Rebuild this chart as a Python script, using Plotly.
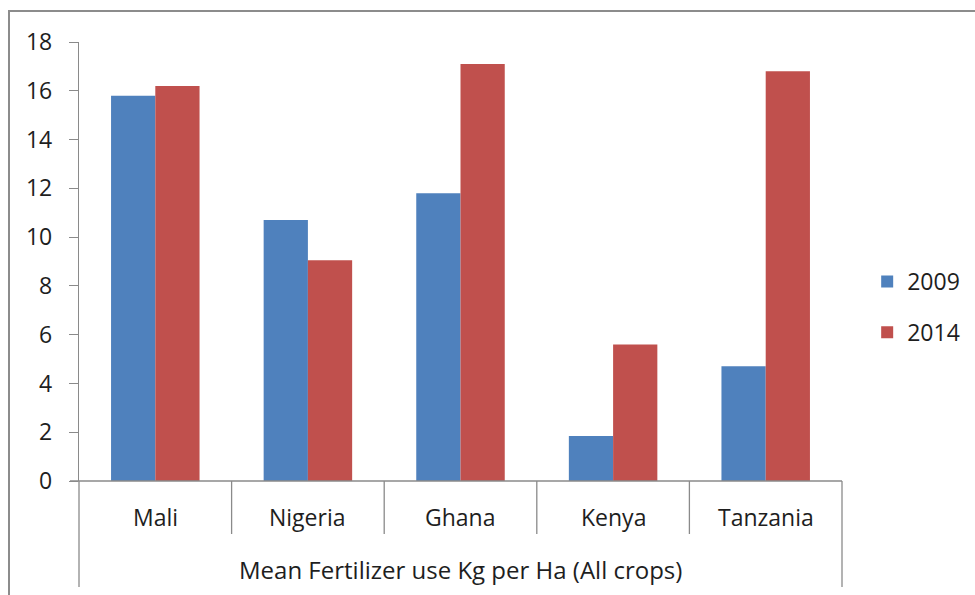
import plotly.graph_objects as go

# Mean fertilizer use (kg per ha, all crops)
countries = ["Mali", "Nigeria", "Ghana", "Kenya", "Tanzania"]
years = ["2009", "2014"]
use_2009 = [15.8, 10.7, 11.8, 1.85, 4.7]
use_2014 = [16.2, 9.05, 17.1, 5.6, 16.8]
y_ticks = [0, 2, 4, 6, 8, 10, 12, 14, 16, 18]
axis_group_label = "Mean Fertilizer use Kg per Ha (All crops)"

W, H = 975, 595
L, R, T, B = 79, 133, 42, 114
plot_w = W - L - R
plot_h = H - T - B

FONT = "Open Sans, sans-serif"
FS = 23
GRID = "#8a8a8a"
TEXT = "#1e1e1e"
colors = ["#4F81BD", "#C0504D"]

n = len(countries)
xs = list(range(n))

fig = go.Figure()
for name, vals, col in zip(years, [use_2009, use_2014], colors):
    fig.add_trace(go.Bar(
        x=xs, y=vals, name=name, legendgroup=name,
        marker=dict(color=col, line=dict(width=0)),
    ))

def px_x(dx):
    return dx / plot_w

def px_y(dy):
    return dy / plot_h

shapes = []
# category separators below the axis
for i in range(n + 1):
    outer = i in (0, n)
    shapes.append(dict(
        type="line", xref="paper", yref="paper",
        x0=i / n, x1=i / n, y0=0, y1=-px_y(106 if outer else 53),
        line=dict(color=GRID, width=1.3),
    ))
# outer chart frame
shapes.append(dict(
    type="rect", xref="paper", yref="paper",
    x0=px_x(9 - L), x1=px_x(W + 20 - L),
    y0=-px_y(B + 20), y1=1 + px_y(T - 11),
    line=dict(color="#8c8c8c", width=2), fillcolor="rgba(0,0,0,0)",
))
# baseline along the category axis, with the zero tick
shapes.append(dict(type="line", xref="paper", yref="paper", x0=-px_x(9), x1=1,
                   y0=0, y1=0, line=dict(color=GRID, width=1.3)))

annotations = []
for i, c in enumerate(countries):
    annotations.append(dict(
        x=(i + 0.5) / n, y=-px_y(36), xref="paper", yref="paper",
        text=c, showarrow=False, xanchor="center", yanchor="middle",
        font=dict(family=FONT, size=FS, color=TEXT),
    ))
annotations.append(dict(
    x=0.5, y=-px_y(88), xref="paper", yref="paper",
    text=axis_group_label, showarrow=False, xanchor="center", yanchor="middle",
    font=dict(family=FONT, size=24, color=TEXT),
))

fig.update_layout(
    width=W, height=H,
    margin=dict(l=L, r=R, t=T, b=B, autoexpand=False),
    paper_bgcolor="white", plot_bgcolor="white",
    barmode="group", bargap=0.42, bargroupgap=0,
    font=dict(family=FONT, size=FS, color=TEXT),
    xaxis=dict(
        range=[-0.5, n - 0.5], showticklabels=False, ticks="",
        showgrid=False, zeroline=False, showline=False, fixedrange=True,
    ),
    yaxis=dict(
        range=[0, 18], tickvals=y_ticks, ticks="outside", ticklen=9,
        tickcolor=GRID, tickwidth=1.3, showline=True, linecolor=GRID,
        linewidth=1.3, showgrid=False, zeroline=False,
        tickfont=dict(family=FONT, size=FS, color=TEXT),
        ticklabelstandoff=12,
    ),
    legend=dict(
        x=1.033, y=1 - px_y(307 - T), xanchor="left", yanchor="middle",
        font=dict(family=FONT, size=FS, color=TEXT),
        traceorder="grouped", tracegroupgap=18,
        bgcolor="rgba(0,0,0,0)",
    ),
    shapes=shapes,
    annotations=annotations,
)

fig.write_html("out.html")
